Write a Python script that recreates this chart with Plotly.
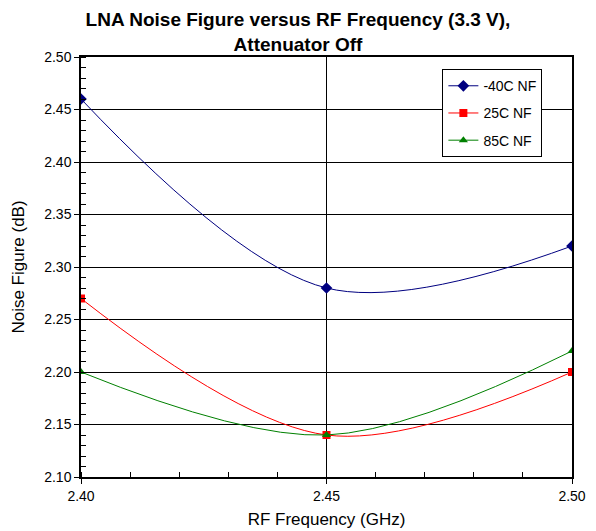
import plotly.graph_objects as go

# Data
freq_ghz = [2.40, 2.45, 2.50]
nf_m40c = [2.46, 2.28, 2.32]
nf_25c = [2.27, 2.14, 2.20]
nf_85c = [2.20, 2.14, 2.22]

series = [
    ("-40C NF", nf_m40c, "#000080", "diamond", 9),
    ("25C NF", nf_25c, "#FF0000", "square", 8),
    ("85C NF", nf_85c, "#008000", "triangle-up", 8),
]

fig = go.Figure()
for name, vals, color, symbol, msize in series:
    fig.add_trace(go.Scatter(
        x=freq_ghz, y=vals, name=name, legendgroup=name,
        mode="lines+markers",
        line=dict(color=color, width=1, shape="spline", smoothing=1),
        marker=dict(color=color, symbol=symbol, size=msize),
    ))

fig.update_layout(
    width=596, height=531,
    margin=dict(l=81, r=24, t=57, b=54),
    plot_bgcolor="white", paper_bgcolor="white",
    font=dict(family="Liberation Sans, Arial, sans-serif", color="black", size=14),
    title=dict(
        text="<b>LNA Noise Figure versus RF Frequency (3.3 V),<br>Attenuator Off</b>",
        x=0.5, xanchor="center", yref="container", y=1 - 26 / 531, yanchor="top",
        font=dict(size=19),
    ),
    showlegend=True,
    legend=dict(
        x=0.736, y=0.971, xanchor="left", yanchor="top",
        bordercolor="black", borderwidth=1, bgcolor="white",
        font=dict(size=14), tracegroupgap=6,
    ),
)

fig.update_xaxes(
    range=[2.40, 2.50], dtick=0.05, tickformat=".2f",
    showgrid=True, gridcolor="black", gridwidth=1,
    showline=True, linecolor="black", linewidth=1.5, mirror=True,
    ticks="outside", ticklen=5, tickcolor="black",
    minor=dict(dtick=0.01, ticks="inside", ticklen=5, tickcolor="black", showgrid=False),
    zeroline=False, automargin=False,
    title=dict(text="RF Frequency (GHz)", font=dict(size=17), standoff=11),
)
fig.update_yaxes(
    range=[2.10, 2.50], dtick=0.05, tickformat=".2f",
    showgrid=True, gridcolor="black", gridwidth=1,
    showline=True, linecolor="black", linewidth=1.5, mirror=True,
    ticks="outside", ticklen=5, tickcolor="black",
    minor=dict(dtick=0.01, ticks="inside", ticklen=5, tickcolor="black", showgrid=False),
    zeroline=False, automargin=False,
    title=dict(text="Noise Figure (dB)", font=dict(size=17), standoff=15),
)

# the page body has an 8px default margin; remove it so the figure sits at 0,0
fig.write_html(
    "out.html",
    config={"displayModeBar": False},
    post_script="document.body.style.margin='0';",
)
